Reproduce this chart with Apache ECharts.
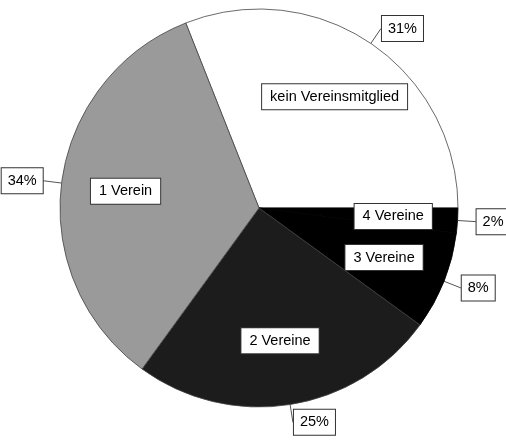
<!DOCTYPE html>
<html>
<head>
<meta charset="utf-8">
<script src="https://cdn.jsdelivr.net/npm/echarts@6/dist/echarts.min.js"></script>
<style>
  html, body { margin: 0; padding: 0; background: #fff; }
  #main { width: 506px; height: 444px; }
</style>
</head>
<body>
<div id="main"></div>
<script>
// Vereinsmitgliedschaft, Anteile in Prozent
var kategorien = ['kein Vereinsmitglied', '4 Vereine', '3 Vereine', '2 Vereine', '1 Verein'];
var anteile = [31, 2, 8, 25, 34];
var farben = ['#ffffff', '#000000', '#000000', '#1c1c1c', '#9a9a9a'];

var daten = [];
for (var i = 0; i < kategorien.length; i++) {
    daten.push({
        name: kategorien[i],
        value: anteile[i],
        itemStyle: {
            color: farben[i],
            // schwarze Stuecke ohne sichtbare Trennlinie
            borderColor: farben[i] == '#000000' ? '#000' : '#444'
        }
    });
}

var schrift = '"Liberation Sans", Arial, sans-serif';
var box = {
    color: '#000',
    fontFamily: schrift,
    fontSize: 14.5,
    lineHeight: 15,
    backgroundColor: '#fff',
    borderColor: '#333',
    borderWidth: 1,
    textBorderWidth: 0
};

var myChart = echarts.init(document.getElementById('main'));
myChart.setOption({
    animation: false,
    backgroundColor: '#fff',
    series: [{
        // sichtbare Torte mit Prozentwerten aussen
        type: 'pie',
        center: [259, 208],
        radius: 199,
        startAngle: 111.6,
        clockwise: true,
        avoidLabelOverlap: false,
        data: daten,
        itemStyle: {
            borderWidth: 0.8
        },
        label: Object.assign({
            position: 'outside',
            formatter: '{c}%',
            padding: [5, 6],
            distanceToLabelLine: 0
        }, box),
        labelLine: {
            show: true,
            length: 18,
            length2: 1,
            smooth: false,
            lineStyle: { color: '#555', width: 1 }
        },
        emphasis: { disabled: true }
    }, {
        // unsichtbarer Ring, nur fuer die Namen innen
        type: 'pie',
        silent: true,
        center: [259, 208],
        radius: [64, 199],
        startAngle: 111.6,
        clockwise: true,
        data: daten.map(function (d) { return { name: d.name, value: d.value }; }),
        itemStyle: { color: 'rgba(0,0,0,0)', borderWidth: 0 },
        label: Object.assign({
            position: 'inside',
            formatter: '{b}',
            padding: [5, 8]
        }, box),
        labelLine: { show: false },
        emphasis: { disabled: true }
    }]
});
</script>
</body>
</html>
